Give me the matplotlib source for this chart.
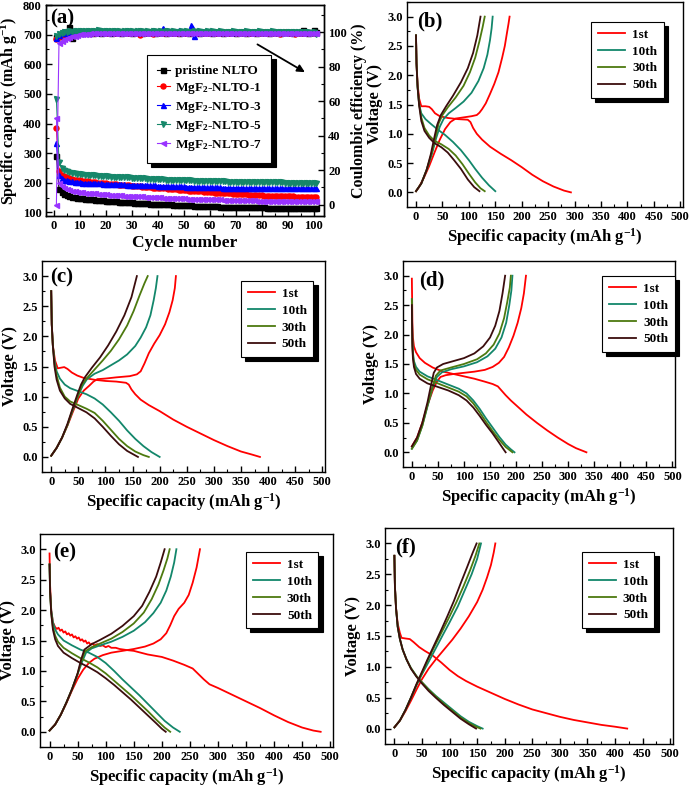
import numpy as np
import matplotlib
matplotlib.use('Agg')
import matplotlib.pyplot as plt
from matplotlib.ticker import MultipleLocator, FormatStrFormatter

plt.rcParams.update({
    'font.family': ['Liberation Serif', 'DejaVu Serif'],
    'font.weight': 'bold',
    'axes.labelweight': 'bold',
    'mathtext.fontset': 'custom',
    'mathtext.rm': 'Liberation Serif:bold',
    'mathtext.it': 'Liberation Serif:bold',
    'mathtext.bf': 'Liberation Serif:bold',
    'axes.linewidth': 1.0,
    'xtick.direction': 'in',
    'ytick.direction': 'in',
})

# ---------------- Panel (a): cycling data ----------------
series_labels = ['pristine NLTO', 'MgF$_2$-NLTO-1', 'MgF$_2$-NLTO-3', 'MgF$_2$-NLTO-5', 'MgF$_2$-NLTO-7']

cap_pristine = [292, 180, 168, 162, 158, 155, 153, 151, 150, 149,
                148, 147, 146, 145, 144, 143, 142, 141, 141, 140,
                139, 138, 138, 137, 136, 136, 135, 135, 134, 134,
                133, 133, 132, 132, 131, 131, 130, 130, 129, 129,
                128, 128, 127, 127, 127, 126, 126, 125, 125, 125,
                124, 124, 124, 123, 123, 123, 122, 122, 122, 121,
                121, 121, 121, 120, 120, 120, 120, 119, 119, 119,
                119, 118, 118, 118, 118, 118, 117, 117, 117, 117,
                117, 116, 116, 116, 116, 116, 116, 115, 115, 115,
                115, 115, 115, 115, 114, 114, 114, 114, 114, 114, 114]
cap_mgf1 = [384, 240, 228, 222, 218, 215, 213, 211, 209, 208,
            207, 206, 205, 204, 203, 202, 201, 200, 199, 198,
            197, 196, 196, 195, 194, 193, 193, 192, 191, 190,
            190, 189, 188, 187, 187, 186, 185, 184, 184, 183,
            182, 181, 181, 180, 179, 178, 178, 177, 176, 176,
            175, 174, 173, 173, 172, 171, 171, 170, 169, 169,
            168, 167, 167, 166, 166, 165, 164, 164, 163, 163,
            162, 162, 161, 161, 160, 160, 159, 159, 158, 158,
            157, 157, 157, 156, 156, 156, 155, 155, 155, 154,
            154, 154, 153, 153, 153, 153, 152, 152, 152, 152, 151]
cap_mgf3 = [333, 225, 215, 211, 208, 206, 205, 204, 203, 202,
            201, 201, 200, 200, 199, 199, 198, 198, 197, 197,
            197, 196, 196, 196, 195, 195, 195, 194, 194, 194,
            193, 193, 193, 192, 192, 192, 191, 191, 191, 190,
            190, 190, 190, 189, 189, 189, 188, 188, 188, 188,
            187, 187, 187, 187, 186, 186, 186, 186, 185, 185,
            185, 185, 185, 185, 184, 184, 184, 184, 184, 184,
            184, 184, 183, 183, 183, 183, 183, 183, 183, 183,
            183, 183, 182, 182, 182, 182, 182, 182, 182, 182,
            182, 182, 182, 182, 182, 182, 182, 182, 182, 182, 182]
cap_mgf5 = [484, 270, 250, 243, 239, 236, 234, 232, 231, 230,
            229, 228, 227, 226, 226, 225, 224, 224, 223, 222,
            222, 221, 221, 220, 220, 219, 219, 218, 218, 217,
            217, 216, 216, 215, 215, 214, 214, 213, 213, 212,
            212, 212, 211, 211, 210, 210, 210, 209, 209, 209,
            208, 208, 208, 207, 207, 207, 207, 206, 206, 206,
            206, 205, 205, 205, 205, 205, 204, 204, 204, 204,
            204, 204, 203, 203, 203, 203, 203, 203, 203, 202,
            202, 202, 202, 202, 202, 202, 202, 202, 201, 201,
            201, 201, 201, 201, 201, 201, 201, 201, 201, 201, 201]
cap_mgf7 = [420, 200, 188, 182, 178, 175, 173, 171, 170, 169,
            168, 167, 166, 165, 164, 164, 163, 162, 162, 161,
            160, 160, 159, 159, 158, 158, 157, 157, 156, 156,
            155, 155, 154, 154, 153, 153, 152, 152, 152, 151,
            151, 150, 150, 150, 149, 149, 149, 148, 148, 148,
            147, 147, 147, 146, 146, 146, 145, 145, 145, 145,
            144, 144, 144, 144, 143, 143, 143, 143, 142, 142,
            142, 142, 141, 141, 141, 141, 141, 140, 140, 140,
            140, 140, 139, 139, 139, 139, 139, 139, 138, 138,
            138, 138, 138, 138, 138, 137, 137, 137, 137, 137, 137]

ce_pristine = [97.0, 98.0, 98.8, 99.2, 99.4, 103.0, 96.5, 99.5, 99.7, 99.8,
               99.9, 100.2, 99.8, 100.0, 99.7, 100.3, 99.9, 99.8, 100.1, 99.9,
               100.0, 99.8, 100.2, 99.9, 100.0, 99.7, 100.1, 99.9, 100.0, 99.8,
               100.2, 99.9, 100.0, 99.8, 100.1, 99.9, 100.0, 100.2, 99.8, 100.0,
               99.9, 100.1, 99.8, 100.0, 100.2, 99.9, 100.0, 99.8, 100.1, 99.9,
               100.0, 99.8, 100.2, 99.9, 100.0, 99.7, 100.1, 99.9, 100.0, 100.2,
               99.8, 100.0, 99.9, 100.1, 99.8, 100.0, 100.2, 99.9, 100.0, 99.8,
               100.1, 99.9, 100.0, 99.8, 100.2, 99.9, 100.0, 99.8, 100.1, 99.9,
               100.0, 100.2, 99.8, 100.0, 99.9, 100.1, 99.8, 100.0, 100.2, 99.9,
               100.0, 99.8, 100.1, 99.9, 100.0, 101.5, 100.0, 99.8, 100.1, 101.2, 100.0]
ce_mgf1 = [96.0, 97.5, 98.5, 99.0, 99.3, 99.5, 98.2, 99.6, 99.8, 99.7,
           99.9, 99.6, 99.8, 100.0, 99.5, 99.8, 99.9, 99.6, 100.0, 99.8,
           99.7, 99.9, 99.6, 99.8, 100.0, 99.7, 99.9, 99.5, 99.8, 99.7,
           99.9, 99.6, 98.6, 99.8, 99.7, 99.9, 99.6, 98.8, 99.8, 99.7,
           99.9, 99.6, 99.8, 99.7, 99.9, 99.5, 99.8, 99.7, 99.9, 99.6,
           99.8, 99.7, 99.9, 99.6, 99.8, 99.7, 99.9, 99.5, 99.8, 99.7,
           99.9, 99.6, 99.8, 99.7, 99.9, 99.6, 99.8, 99.7, 99.9, 99.5,
           99.8, 99.7, 99.9, 99.6, 99.8, 99.7, 99.9, 99.6, 99.8, 99.7,
           99.9, 99.5, 99.8, 99.7, 99.9, 99.6, 98.7, 99.7, 99.9, 99.6,
           99.8, 99.7, 98.8, 99.6, 99.8, 99.7, 99.9, 99.6, 99.8, 99.7, 99.8]
ce_mgf3 = [96.5, 98.5, 99.3, 100.5, 99.8, 100.2, 100.0, 100.4, 99.9, 100.1,
           100.3, 99.9, 100.2, 100.4, 100.0, 100.2, 99.9, 100.3, 100.1, 100.0,
           100.2, 99.9, 100.3, 100.1, 100.0, 100.2, 100.4, 100.0, 100.1, 100.3,
           99.9, 100.2, 100.1, 100.0, 100.3, 99.9, 100.2, 100.1, 100.0, 100.2,
           100.4, 102.6, 100.1, 100.0, 100.2, 99.9, 100.3, 101.2, 100.0, 100.2,
           100.1, 99.9, 104.0, 97.6, 100.2, 100.0, 100.3, 100.1, 99.9, 100.2,
           100.0, 100.3, 100.1, 99.9, 100.2, 100.0, 100.3, 100.1, 99.9, 100.2,
           100.0, 100.3, 100.1, 99.9, 100.2, 100.0, 100.3, 100.1, 99.9, 100.2,
           100.0, 100.3, 100.1, 99.9, 100.2, 100.0, 100.3, 100.1, 99.9, 100.2,
           100.0, 100.3, 100.1, 99.9, 100.2, 100.0, 100.3, 100.1, 99.9, 100.2, 100.0]
ce_mgf5 = [98.0, 98.8, 99.5, 100.0, 100.3, 100.6, 100.4, 100.8, 100.5, 100.7,
           100.9, 100.6, 100.8, 101.0, 100.7, 100.9, 101.1, 100.8, 100.6, 100.9,
           100.7, 100.5, 100.8, 100.6, 100.9, 100.4, 100.7, 100.5, 100.8, 100.6,
           100.4, 100.7, 100.5, 100.8, 100.3, 100.6, 100.4, 100.7, 100.5, 100.3,
           100.6, 100.4, 100.7, 100.5, 100.3, 100.6, 100.4, 100.2, 100.5, 100.3,
           100.6, 100.4, 100.2, 100.5, 100.3, 100.6, 100.4, 100.2, 100.5, 100.3,
           100.6, 100.4, 100.2, 100.5, 100.3, 100.1, 100.4, 100.2, 100.5, 100.3,
           100.1, 100.4, 100.2, 100.5, 100.3, 100.1, 100.4, 100.2, 100.5, 100.3,
           100.1, 100.4, 100.2, 100.5, 100.3, 100.1, 100.4, 100.2, 100.0, 100.3,
           100.1, 100.4, 100.2, 100.0, 100.3, 100.1, 100.4, 100.2, 99.5, 100.0, 98.7]
ce_mgf7 = [0.0, 94.0, 94.8, 95.8, 96.6, 97.2, 97.7, 98.1, 98.4, 98.7,
           98.9, 99.1, 99.2, 99.4, 99.3, 99.5, 99.4, 99.6, 99.5, 99.7,
           99.4, 99.6, 99.5, 99.7, 99.4, 99.6, 99.5, 99.7, 99.3, 99.6,
           99.5, 99.7, 99.4, 99.6, 99.5, 99.7, 99.4, 99.6, 99.5, 99.7,
           99.4, 99.6, 99.5, 99.7, 99.4, 99.6, 99.5, 99.7, 99.4, 99.6,
           99.5, 99.7, 99.4, 99.6, 99.5, 99.7, 99.4, 99.6, 99.5, 99.7,
           99.4, 99.6, 99.5, 99.7, 99.4, 99.6, 99.5, 99.7, 99.4, 99.6,
           99.5, 99.7, 99.4, 99.6, 99.5, 99.7, 99.4, 99.6, 99.5, 99.7,
           99.4, 99.6, 99.5, 99.7, 99.4, 99.6, 99.5, 99.7, 99.4, 99.6,
           99.5, 99.7, 99.4, 99.6, 99.5, 99.7, 99.4, 99.6, 99.5, 99.7, 99.6]

# ---------------- Panels (b)-(f): voltage profiles (capacity mAh/g, voltage V) ----------------
cycle_labels = ['1st', '10th', '30th', '50th']

b_1st_dis = [(0, 2.68), (1, 2.2), (3, 1.85), (6, 1.6), (10, 1.47), (18, 1.47), (25, 1.46), (30, 1.42), (36, 1.35), (45, 1.3), (60, 1.27), (80, 1.25), (98, 1.24), (103, 1.2), (108, 1.1), (115, 1.0), (125, 0.9), (140, 0.78), (160, 0.66), (180, 0.55), (200, 0.43), (220, 0.3), (240, 0.19), (260, 0.1), (280, 0.03), (293, 0.0)]
b_1st_chg = [(0, 0.02), (5, 0.08), (15, 0.25), (25, 0.45), (35, 0.68), (45, 0.9), (55, 1.08), (65, 1.2), (75, 1.26), (90, 1.28), (105, 1.3), (115, 1.32), (120, 1.36), (125, 1.42), (132, 1.52), (140, 1.68), (148, 1.85), (156, 2.05), (163, 2.3), (168, 2.5), (172, 2.72), (175, 2.88), (177, 3.0)]
b_10th_dis = [(0, 2.68), (1, 2.2), (3, 1.8), (6, 1.5), (10, 1.35), (18, 1.25), (28, 1.17), (40, 1.08), (55, 0.98), (70, 0.86), (85, 0.72), (100, 0.55), (112, 0.4), (125, 0.25), (138, 0.12), (150, 0.02)]
b_10th_chg = [(0, 0.02), (10, 0.15), (20, 0.38), (30, 0.65), (38, 0.92), (45, 1.12), (52, 1.25), (62, 1.35), (75, 1.44), (90, 1.55), (105, 1.7), (118, 1.9), (128, 2.12), (135, 2.35), (140, 2.6), (143, 2.8), (145, 3.0)]
b_30th_dis = [(0, 2.68), (1, 2.2), (3, 1.8), (6, 1.5), (10, 1.28), (16, 1.1), (25, 0.97), (35, 0.88), (48, 0.82), (62, 0.74), (75, 0.63), (88, 0.48), (100, 0.32), (112, 0.17), (122, 0.07), (130, 0.02)]
b_30th_chg = [(0, 0.02), (10, 0.15), (20, 0.38), (30, 0.68), (37, 0.95), (43, 1.18), (50, 1.32), (60, 1.45), (75, 1.62), (90, 1.82), (102, 2.05), (112, 2.3), (120, 2.58), (126, 2.82), (130, 3.0)]
b_50th_dis = [(0, 2.68), (1, 2.2), (3, 1.8), (6, 1.48), (10, 1.22), (16, 1.05), (25, 0.93), (35, 0.84), (48, 0.77), (60, 0.68), (72, 0.55), (85, 0.4), (98, 0.22), (110, 0.09), (120, 0.02)]
b_50th_chg = [(0, 0.02), (10, 0.15), (20, 0.38), (28, 0.65), (35, 0.95), (40, 1.15), (47, 1.32), (57, 1.47), (70, 1.65), (85, 1.88), (98, 2.12), (108, 2.38), (116, 2.68), (122, 3.0)]

c_1st_dis = [(0, 2.75), (1, 2.2), (3, 1.85), (7, 1.6), (12, 1.47), (18, 1.48), (24, 1.49), (30, 1.46), (38, 1.4), (48, 1.35), (60, 1.31), (80, 1.28), (100, 1.26), (120, 1.25), (138, 1.23), (143, 1.2), (148, 1.12), (155, 1.04), (165, 0.95), (180, 0.86), (200, 0.76), (225, 0.62), (250, 0.5), (275, 0.39), (300, 0.28), (325, 0.18), (350, 0.09), (370, 0.04), (385, 0.0)]
c_1st_chg = [(0, 0.02), (10, 0.15), (20, 0.32), (30, 0.52), (40, 0.75), (50, 0.97), (60, 1.1), (70, 1.18), (78, 1.25), (85, 1.29), (100, 1.3), (120, 1.32), (145, 1.34), (158, 1.37), (165, 1.42), (172, 1.55), (180, 1.72), (190, 1.88), (200, 2.02), (210, 2.2), (218, 2.4), (224, 2.6), (228, 2.8), (230, 3.0)]
c_10th_dis = [(0, 2.75), (1, 2.2), (3, 1.85), (6, 1.6), (10, 1.42), (16, 1.3), (25, 1.2), (35, 1.14), (50, 1.09), (65, 1.04), (80, 0.97), (95, 0.87), (110, 0.74), (125, 0.6), (140, 0.44), (155, 0.3), (170, 0.18), (185, 0.08), (200, 0.0)]
c_10th_chg = [(0, 0.02), (10, 0.15), (20, 0.32), (30, 0.53), (40, 0.78), (50, 1.02), (58, 1.18), (66, 1.29), (80, 1.38), (95, 1.44), (110, 1.52), (125, 1.6), (140, 1.7), (155, 1.84), (165, 1.98), (175, 2.15), (183, 2.35), (189, 2.6), (193, 2.8), (196, 3.0)]
c_30th_dis = [(0, 2.75), (1, 2.2), (3, 1.85), (6, 1.55), (10, 1.35), (16, 1.15), (25, 1.0), (35, 0.92), (50, 0.86), (65, 0.8), (80, 0.73), (95, 0.6), (110, 0.45), (125, 0.3), (140, 0.18), (155, 0.09), (170, 0.03), (180, 0.0)]
c_30th_chg = [(0, 0.02), (10, 0.15), (20, 0.32), (30, 0.53), (40, 0.8), (50, 1.03), (57, 1.2), (65, 1.3), (80, 1.45), (95, 1.6), (110, 1.76), (125, 1.95), (140, 2.18), (152, 2.42), (163, 2.68), (172, 2.88), (178, 3.0)]
c_50th_dis = [(0, 2.75), (1, 2.2), (3, 1.85), (6, 1.5), (10, 1.28), (16, 1.1), (25, 0.97), (35, 0.88), (50, 0.81), (65, 0.74), (80, 0.64), (95, 0.5), (110, 0.35), (125, 0.21), (140, 0.1), (152, 0.04), (160, 0.0)]
c_50th_chg = [(0, 0.02), (10, 0.15), (20, 0.32), (30, 0.55), (40, 0.82), (48, 1.03), (55, 1.2), (62, 1.32), (75, 1.48), (90, 1.65), (105, 1.85), (120, 2.08), (135, 2.35), (148, 2.65), (158, 3.0)]

d_1st_dis = [(0, 2.95), (0.5, 2.6), (1, 2.2), (2, 1.95), (4, 1.8), (8, 1.7), (15, 1.6), (25, 1.52), (40, 1.44), (60, 1.37), (80, 1.33), (100, 1.29), (120, 1.25), (140, 1.2), (155, 1.16), (165, 1.12), (172, 1.05), (180, 0.97), (190, 0.88), (205, 0.76), (220, 0.64), (240, 0.5), (260, 0.37), (280, 0.25), (300, 0.14), (315, 0.07), (335, 0.0)]
d_1st_chg = [(0, 0.1), (10, 0.25), (20, 0.5), (30, 0.8), (40, 1.05), (48, 1.2), (55, 1.28), (65, 1.31), (80, 1.33), (100, 1.35), (120, 1.37), (140, 1.4), (155, 1.45), (167, 1.52), (177, 1.62), (186, 1.78), (195, 1.98), (203, 2.2), (210, 2.45), (215, 2.7), (219, 3.0)]
d_10th_dis = [(0, 2.6), (0.5, 2.2), (1, 1.9), (2, 1.7), (4, 1.55), (8, 1.45), (15, 1.37), (30, 1.29), (50, 1.22), (70, 1.15), (90, 1.08), (105, 1.0), (118, 0.88), (130, 0.74), (142, 0.58), (155, 0.42), (168, 0.26), (180, 0.13), (190, 0.05), (197, 0.0)]
d_10th_chg = [(0, 0.06), (10, 0.2), (20, 0.45), (30, 0.78), (40, 1.1), (48, 1.28), (58, 1.36), (75, 1.41), (100, 1.46), (125, 1.53), (145, 1.63), (160, 1.76), (172, 1.95), (181, 2.2), (187, 2.5), (191, 2.75), (193, 3.0)]
d_30th_dis = [(0, 2.6), (0.5, 2.2), (1, 1.85), (2, 1.65), (4, 1.5), (8, 1.4), (15, 1.32), (30, 1.24), (50, 1.17), (70, 1.1), (90, 1.03), (105, 0.95), (118, 0.83), (130, 0.68), (142, 0.52), (155, 0.36), (168, 0.21), (180, 0.09), (193, 0.0)]
d_30th_chg = [(0, 0.06), (10, 0.2), (20, 0.45), (30, 0.8), (40, 1.12), (46, 1.3), (55, 1.39), (75, 1.44), (100, 1.5), (125, 1.58), (142, 1.68), (157, 1.83), (168, 2.02), (177, 2.28), (183, 2.55), (188, 2.8), (190, 3.0)]
d_50th_dis = [(0, 2.5), (0.5, 2.1), (1, 1.8), (2, 1.6), (4, 1.45), (8, 1.33), (15, 1.25), (30, 1.17), (50, 1.11), (70, 1.05), (90, 0.97), (105, 0.88), (118, 0.76), (130, 0.62), (142, 0.47), (155, 0.32), (166, 0.18), (176, 0.05), (180, 0.0)]
d_50th_chg = [(0, 0.1), (10, 0.25), (20, 0.5), (30, 0.85), (37, 1.15), (42, 1.35), (48, 1.44), (60, 1.5), (80, 1.55), (100, 1.6), (120, 1.68), (137, 1.8), (150, 1.95), (160, 2.15), (168, 2.4), (174, 2.7), (179, 3.0)]

e_1st_dis = [(0, 2.93), (1, 2.4), (3, 2.0), (6, 1.8), (10, 1.72), (13, 1.69), (16, 1.71), (19, 1.66), (22, 1.68), (25, 1.63), (28, 1.65), (31, 1.6), (34, 1.62), (37, 1.58), (40, 1.6), (43, 1.55), (46, 1.57), (49, 1.53), (52, 1.55), (55, 1.5), (58, 1.52), (61, 1.48), (64, 1.5), (67, 1.45), (70, 1.47), (73, 1.43), (76, 1.45), (80, 1.42), (85, 1.44), (90, 1.41), (95, 1.42), (100, 1.39), (105, 1.41), (110, 1.38), (118, 1.38), (125, 1.36), (140, 1.34), (150, 1.33), (175, 1.27), (200, 1.23), (220, 1.17), (240, 1.1), (255, 1.04), (265, 0.95), (275, 0.86), (285, 0.78), (300, 0.72), (325, 0.61), (350, 0.5), (375, 0.39), (400, 0.27), (425, 0.16), (450, 0.07), (470, 0.02), (483, 0.0)]
e_1st_chg = [(0, 0.02), (10, 0.12), (20, 0.28), (30, 0.47), (40, 0.68), (50, 0.87), (60, 1.02), (70, 1.13), (80, 1.2), (95, 1.26), (110, 1.3), (130, 1.33), (150, 1.36), (170, 1.4), (185, 1.45), (198, 1.52), (208, 1.62), (215, 1.75), (222, 1.9), (230, 2.02), (240, 2.12), (248, 2.25), (255, 2.45), (262, 2.7), (268, 3.0)]
e_10th_dis = [(0, 2.75), (1, 2.3), (3, 2.0), (6, 1.8), (10, 1.68), (15, 1.6), (25, 1.5), (40, 1.42), (55, 1.35), (70, 1.3), (85, 1.23), (100, 1.13), (115, 1.0), (130, 0.86), (145, 0.73), (160, 0.6), (175, 0.46), (190, 0.32), (205, 0.18), (220, 0.07), (232, 0.0)]
e_10th_chg = [(0, 0.02), (10, 0.12), (20, 0.28), (30, 0.48), (40, 0.7), (50, 0.95), (58, 1.15), (65, 1.3), (75, 1.37), (90, 1.42), (110, 1.48), (130, 1.56), (150, 1.66), (170, 1.8), (185, 1.95), (198, 2.12), (208, 2.32), (216, 2.55), (222, 2.78), (226, 3.0)]
e_30th_dis = [(0, 2.75), (1, 2.3), (3, 1.95), (6, 1.72), (10, 1.58), (15, 1.48), (25, 1.38), (40, 1.29), (55, 1.21), (70, 1.14), (85, 1.06), (100, 0.96), (115, 0.84), (130, 0.72), (145, 0.6), (160, 0.47), (175, 0.34), (190, 0.2), (205, 0.07), (215, 0.0)]
e_30th_chg = [(0, 0.02), (10, 0.12), (20, 0.28), (30, 0.48), (40, 0.7), (50, 0.95), (57, 1.17), (63, 1.32), (75, 1.39), (90, 1.45), (110, 1.53), (130, 1.64), (150, 1.78), (168, 1.96), (182, 2.18), (194, 2.42), (203, 2.65), (210, 2.85), (214, 3.0)]
e_50th_dis = [(0, 2.75), (1, 2.3), (3, 1.95), (6, 1.68), (10, 1.52), (15, 1.41), (25, 1.3), (40, 1.21), (55, 1.13), (70, 1.06), (85, 0.98), (100, 0.88), (115, 0.77), (130, 0.65), (145, 0.53), (160, 0.4), (175, 0.27), (190, 0.14), (200, 0.05), (207, 0.0)]
e_50th_chg = [(0, 0.02), (10, 0.12), (20, 0.28), (30, 0.48), (40, 0.7), (50, 0.96), (56, 1.18), (62, 1.35), (75, 1.44), (90, 1.51), (110, 1.61), (130, 1.74), (150, 1.9), (165, 2.07), (178, 2.3), (190, 2.55), (198, 2.78), (205, 3.0)]

f_1st_dis = [(0, 2.8), (1, 2.3), (3, 1.95), (6, 1.7), (10, 1.55), (13, 1.47), (20, 1.46), (28, 1.45), (35, 1.4), (45, 1.32), (55, 1.26), (70, 1.18), (85, 1.07), (100, 0.95), (115, 0.85), (130, 0.77), (150, 0.68), (175, 0.58), (200, 0.48), (225, 0.39), (250, 0.31), (275, 0.25), (300, 0.19), (325, 0.14), (350, 0.1), (375, 0.06), (400, 0.03), (422, 0.0)]
f_1st_chg = [(0, 0.02), (10, 0.13), (20, 0.28), (30, 0.45), (40, 0.63), (50, 0.8), (62, 0.97), (75, 1.12), (90, 1.28), (105, 1.44), (120, 1.62), (135, 1.82), (150, 2.05), (160, 2.25), (168, 2.45), (175, 2.65), (180, 2.85), (183, 3.0)]
f_10th_dis = [(0, 2.8), (1, 2.3), (3, 1.95), (6, 1.65), (10, 1.45), (15, 1.28), (22, 1.12), (30, 0.98), (40, 0.85), (50, 0.75), (62, 0.64), (75, 0.53), (90, 0.42), (105, 0.31), (120, 0.2), (135, 0.11), (150, 0.04), (160, 0.0)]
f_10th_chg = [(0, 0.02), (10, 0.13), (20, 0.3), (30, 0.5), (40, 0.7), (50, 0.88), (62, 1.08), (75, 1.3), (88, 1.52), (100, 1.72), (115, 1.98), (128, 2.25), (140, 2.5), (150, 2.75), (157, 3.0)]
f_30th_dis = [(0, 2.8), (1, 2.3), (3, 1.95), (6, 1.65), (10, 1.45), (15, 1.28), (22, 1.12), (30, 0.98), (40, 0.85), (50, 0.75), (62, 0.63), (75, 0.52), (90, 0.4), (105, 0.29), (120, 0.18), (135, 0.09), (148, 0.03), (156, 0.0)]
f_30th_chg = [(0, 0.02), (10, 0.13), (20, 0.3), (30, 0.5), (40, 0.71), (50, 0.9), (60, 1.1), (72, 1.32), (85, 1.55), (98, 1.78), (112, 2.04), (125, 2.3), (137, 2.56), (147, 2.8), (154, 3.0)]
f_50th_dis = [(0, 2.8), (1, 2.3), (3, 1.95), (6, 1.65), (10, 1.45), (15, 1.28), (22, 1.12), (30, 0.97), (40, 0.84), (50, 0.73), (62, 0.61), (75, 0.5), (90, 0.38), (105, 0.27), (120, 0.16), (135, 0.07), (148, 0.0)]
f_50th_chg = [(0, 0.02), (10, 0.13), (20, 0.3), (30, 0.5), (40, 0.72), (50, 0.92), (60, 1.12), (72, 1.35), (84, 1.58), (96, 1.82), (108, 2.07), (120, 2.35), (132, 2.62), (142, 2.85), (149, 3.0)]

# ---------------- Figure ----------------
W, H = 692, 789
fig = plt.figure(figsize=(W / 100, H / 100), dpi=100)


def rect(l, t, r, b):
    return [l / W, 1 - b / H, (r - l) / W, (b - t) / H]


TICK_FS = 9
LABEL_FS = 12
LEG_FS = 9.5


def style_ticks(ax):
    ax.tick_params(which='major', length=4, width=1.0, labelsize=TICK_FS, pad=3)
    ax.tick_params(which='minor', length=2, width=0.8)
    for lab in ax.get_xticklabels() + ax.get_yticklabels():
        lab.set_fontweight('bold')


# ----- (a) -----
axA = fig.add_axes(rect(46, 5, 324, 216))
axA2 = axA.twinx()
colors_a = ['#000000', '#ff0000', '#0000ff', '#16876a', '#9933ff']
markers_a = ['s', 'o', '^', 'v', '<']
caps = [cap_pristine, cap_mgf1, cap_mgf3, cap_mgf5, cap_mgf7]
ces = [ce_pristine, ce_mgf1, ce_mgf3, ce_mgf5, ce_mgf7]
handles = []
for cap, ce, lab, col, mk in zip(caps, ces, series_labels, colors_a, markers_a):
    cyc = np.arange(1, len(cap) + 1)
    h, = axA.plot(cyc, cap, color=col, marker=mk, ms=3.6, lw=0.8, label=lab)
    handles.append(h)
    cyc2 = np.arange(1, len(ce) + 1)
    axA2.plot(cyc2, ce, color=col, marker=mk, ms=3.6, lw=0.8)

axA.set_xlim(-3, 104)
axA.set_ylim(88, 800)
axA2.set_ylim(-6.6, 115.8)
axA.xaxis.set_major_locator(MultipleLocator(10))
axA.xaxis.set_minor_locator(MultipleLocator(5))
axA.yaxis.set_major_locator(MultipleLocator(100))
axA.yaxis.set_minor_locator(MultipleLocator(50))
axA2.yaxis.set_major_locator(MultipleLocator(20))
axA2.yaxis.set_minor_locator(MultipleLocator(10))
style_ticks(axA)
style_ticks(axA2)
axA.set_xlabel('Cycle number', fontsize=12.5, labelpad=2)
axA.set_ylabel('Specific capacity (mAh g$^{-1}$)', fontsize=11.5, labelpad=2)
axA2.set_ylabel('Coulombic efficiency (%)', fontsize=11.5, labelpad=3)
axA.text(0.015, 0.985, '(a)', transform=axA.transAxes, fontsize=15, fontweight='bold', va='top', ha='left')
axA2.annotate('', xy=(0.94, 0.675), xytext=(0.752, 0.82), xycoords='axes fraction',
              arrowprops=dict(arrowstyle='-|>', color='k', lw=1.3, mutation_scale=11))
legA = axA2.legend(handles=handles, loc='upper left', bbox_to_anchor=(0.363, 0.763), borderaxespad=0,
                   fontsize=LEG_FS, handlelength=1.0, handletextpad=0.35, labelspacing=0.3,
                   borderpad=0.75, frameon=True, fancybox=False, framealpha=1,
                   edgecolor='black', shadow={'ox': 3, 'oy': -3, 'color': 'black', 'alpha': 1})
legA.get_frame().set_linewidth(0.8)

# ----- (b)-(f) -----
cyc_colors = ['#ff0000', '#13876b', '#4d7a0f', '#3b0d0d']
panels = [
    ('(b)', rect(407, 2, 683, 207), [b_1st_dis, b_10th_dis, b_30th_dis, b_50th_dis],
     [b_1st_chg, b_10th_chg, b_30th_chg, b_50th_chg], (0.036, 0.955), (0.667, 0.903)),
    ('(c)', rect(42, 261, 325, 472), [c_1st_dis, c_10th_dis, c_30th_dis, c_50th_dis],
     [c_1st_chg, c_10th_chg, c_30th_chg, c_50th_chg], (0.028, 0.97), (0.703, 0.905)),
    ('(d)', rect(403, 261, 675, 467), [d_1st_dis, d_10th_dis, d_30th_dis, d_50th_dis],
     [d_1st_chg, d_10th_chg, d_30th_chg, d_50th_chg], (0.06, 0.956), (0.732, 0.927)),
    ('(e)', rect(40, 534, 333, 747), [e_1st_dis, e_10th_dis, e_30th_dis, e_50th_dis],
     [e_1st_chg, e_10th_chg, e_30th_chg, e_50th_chg], (0.044, 0.962), (0.703, 0.915)),
    ('(f)', rect(385, 528, 673, 744), [f_1st_dis, f_10th_dis, f_30th_dis, f_50th_dis],
     [f_1st_chg, f_10th_chg, f_30th_chg, f_50th_chg], (0.035, 0.954), (0.684, 0.889)),
]

for tag, rc, dis_list, chg_list, tag_pos, leg_pos in panels:
    ax = fig.add_axes(rc)
    for dis, chg, col, lab in zip(dis_list, chg_list, cyc_colors, cycle_labels):
        q, v = zip(*dis)
        ax.plot(q, v, color=col, lw=1.3, label=lab)
        q, v = zip(*chg)
        ax.plot(q, v, color=col, lw=1.3)
    ax.set_xlim(-17, 505)
    ax.set_ylim(-0.25, 3.25)
    ax.xaxis.set_major_locator(MultipleLocator(50))
    ax.xaxis.set_minor_locator(MultipleLocator(25))
    ax.yaxis.set_major_locator(MultipleLocator(0.5))
    ax.yaxis.set_minor_locator(MultipleLocator(0.25))
    ax.yaxis.set_major_formatter(FormatStrFormatter('%.1f'))
    style_ticks(ax)
    ax.set_xlabel('Specific capacity (mAh g$^{-1}$)', fontsize=LABEL_FS, labelpad=2)
    ax.set_ylabel('Voltage (V)', fontsize=LABEL_FS, labelpad=3)
    ax.text(tag_pos[0], tag_pos[1], tag, transform=ax.transAxes, fontsize=15,
            fontweight='bold', va='top', ha='left')
    leg = ax.legend(loc='upper left', bbox_to_anchor=leg_pos, borderaxespad=0,
                    fontsize=LEG_FS, handlelength=2.1, handletextpad=0.5, labelspacing=0.35,
                    borderpad=0.5, frameon=True, fancybox=False, framealpha=1,
                    edgecolor='black', shadow={'ox': 3, 'oy': -3, 'color': 'black', 'alpha': 1})
    leg.get_frame().set_linewidth(0.8)

fig.savefig('out.png', dpi=100)
